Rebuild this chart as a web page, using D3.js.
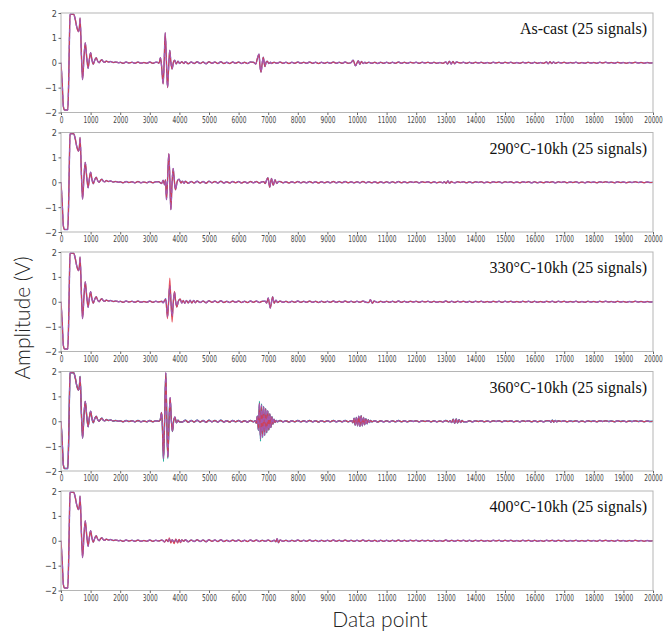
<!DOCTYPE html>
<html>
<head>
<meta charset="utf-8">
<script src="https://cdn.jsdelivr.net/npm/d3@7"></script>
<style>
  body { margin: 0; background: #fff; }
</style>
</head>
<body>
<svg id="chart" width="666" height="632"></svg>
<script>
// panel titles, top to bottom
var panelTitles = ["As-cast (25 signals)", "290\u00B0C-10kh (25 signals)", "330\u00B0C-10kh (25 signals)",
                   "360\u00B0C-10kh (25 signals)", "400\u00B0C-10kh (25 signals)"];
var xTicks = d3.range(0, 20001, 1000);
var yTicks = [-2, -1, 0, 1, 2];

// initial bang, the same in every panel: [data point, amplitude]
var mainBang = [[0,0],[40,-0.8],[80,-1.75],[120,-1.9],[230,-1.9],[255,-1.0],[280,0.6],[305,1.95],[430,1.95],
  [480,1.75],[540,1.4],[590,1.25],[620,1.4],[645,1.8],[690,0.3],[730,-0.68],[775,0.2],[820,0.8],[870,0.2],
  [915,-0.22],[960,0.15],[1000,0.4],[1045,0.12],[1090,-0.06],[1140,0.1],[1190,0.2],[1240,0.06],[1290,0.0],
  [1335,0.08],[1380,0.12],[1430,0.04],[1480,0.02],[1530,0.07],[1600,0.03],[1680,0.05],[1760,0.01],[1850,0.03],[1950,0.0]];

// low background ripple, one value every 100 data points from 2000 on
var rippleStart = 2000, rippleStep = 100;
var ripple = [
  0.02,-0.02,0.03,-0.01,0.02,-0.02,0.03,-0.02,0.01,-0.02,0.03,-0.02,0.02,-0.01,0.03,-0.02,0.02,-0.03,0.02,-0.02,
  0.04,-0.03,0.04,-0.04,0.03,-0.03,0.04,-0.03,0.03,-0.04,0.04,-0.02,0.03,-0.03,0.04,-0.03,0.02,-0.03,0.03,-0.02,
  0.03,-0.03,0.02,-0.03,0.03,-0.02,0.03,-0.03,0.02,-0.02,0.03,-0.03,0.02,-0.02,0.03,-0.02,0.02,-0.03,0.02,-0.02,
  0.03,-0.02,0.02,-0.02,0.03,-0.02,0.02,-0.03,0.02,-0.02,0.02,-0.02,0.03,-0.02,0.02,-0.02,0.03,-0.02,0.02,-0.02,
  0.02,-0.02,0.03,-0.02,0.02,-0.02,0.02,-0.03,0.02,-0.02,0.02,-0.02,0.02,-0.02,0.03,-0.02,0.02,-0.02,0.02,-0.01,
  0.02,-0.02,0.02,-0.01,0.02,-0.02,0.02,-0.02,0.01,-0.02,0.03,-0.02,0.02,-0.02,0.02,-0.01,0.02,-0.02,0.02,-0.02,
  0.02,-0.01,0.02,-0.02,0.01,-0.02,0.02,-0.01,0.02,-0.02,0.02,-0.01,0.02,-0.02,0.01,-0.02,0.02,-0.01,0.02,-0.02,
  0.02,-0.02,0.01,-0.02,0.02,-0.01,0.02,-0.02,0.02,-0.01,0.02,-0.02,0.01,-0.01,0.02,-0.02,0.01,-0.02,0.02,-0.01,
  0.01,-0.02,0.02,-0.01,0.02,-0.01,0.01,-0.02,0.02,-0.01,0.01,-0.02,0.01,-0.01,0.02,-0.01,0.01,-0.02,0.01,-0.01,
  0.0];

// echo bursts per panel: [data point, amplitude]
var echoesAsCast = [
  [[3250,0.02],[3310,-0.02],[3360,0.2],[3400,-0.15],[3450,-0.85],[3485,0.0],[3520,1.2],[3560,0.1],[3600,-1.0],
   [3640,-0.1],[3675,0.5],[3710,0.05],[3750,-0.25],[3800,0.03],[3840,0.1],[3890,-0.05],[3950,0.06],[4010,-0.03],[4080,0.04],[4150,-0.03]],
  [[6500,0.02],[6580,-0.05],[6630,0.15],[6690,0.35],[6720,-0.1],[6756,-0.38],[6800,0.0],[6835,0.22],[6870,-0.05],
   [6890,-0.15],[6930,0.02],[6970,0.06],[7020,-0.03],[7080,0.02]],
  [[9800,0.01],[9870,0.1],[9950,-0.12],[10040,0.08],[10100,-0.06],[10150,0.05],[10210,-0.03],[10270,0.02]],
  [[13000,0.03],[13060,-0.05],[13120,0.06],[13180,-0.05],[13240,0.05],[13300,-0.04],[13360,0.03]],
  [[16400,0.03],[16460,-0.04],[16520,0.04],[16580,-0.03],[16640,0.03]]
];
var echoes290 = [
  [[3300,0.02],[3400,-0.05],[3450,0.08],[3500,-0.1],[3530,0.1],[3563,-0.7],[3600,0.1],[3643,1.15],[3680,0.0],
   [3710,-1.1],[3750,-0.1],[3789,0.55],[3830,0.05],[3867,-0.3],[3930,0.05],[3990,0.12],[4050,-0.03],[4100,0.04],[4160,-0.04]],
  [[6850,0.02],[6900,-0.05],[6950,0.1],[6990,0.18],[7050,-0.2],[7110,0.15],[7170,-0.12],[7230,0.1],[7290,-0.05],[7350,0.03]],
  [[12950,0.02],[13010,-0.04],[13070,0.05],[13130,-0.04],[13190,0.03]]
];
var echoes330 = [
  [[3400,0.02],[3450,-0.04],[3500,0.05],[3540,0.12],[3597,-0.6],[3636,0.0],[3676,0.65],[3715,0.0],[3754,-0.6],
   [3795,0.0],[3834,0.38],[3875,0.0],[3912,-0.2],[3965,0.02],[4025,0.1],[4080,-0.05],[4130,0.05],[4180,-0.06],
   [4240,0.05],[4300,-0.05],[4360,0.06],[4420,-0.05],[4480,0.05],[4540,-0.04]],
  [[6900,0.02],[6950,-0.05],[7000,0.15],[7070,-0.25],[7150,0.2],[7200,-0.06],[7260,0.06],[7320,-0.03]],
  [[10400,-0.03],[10450,0.08],[10520,-0.06],[10580,0.03]]
];
var echoes360 = [
  [[3300,0.0],[3350,0.05],[3396,0.35],[3420,0.0],[3463,-1.5],[3500,0.0],[3541,1.95],[3575,0.0],[3609,-1.45],
   [3650,0.0],[3687,0.95],[3725,0.1],[3765,-0.4],[3805,0.0],[3850,0.17],[3900,-0.06],[3950,0.04],[4000,-0.02]],
  [[6560,0.02],[6600,-0.08],[6635,0.2],[6670,-0.35],[6705,0.72],[6740,-0.7],[6775,0.65],[6810,-0.62],[6845,0.58],
   [6880,-0.55],[6915,0.5],[6950,-0.45],[6985,0.42],[7020,-0.35],[7055,0.3],[7090,-0.25],[7125,0.18],[7160,-0.12],
   [7195,0.08],[7230,-0.05],[7270,0.03],[7310,-0.02]],
  [[9820,0.02],[9860,-0.06],[9900,0.12],[9940,-0.15],[9980,0.15],[10020,-0.18],[10060,0.2],[10100,-0.2],[10140,0.22],
   [10180,-0.18],[10220,0.15],[10260,-0.14],[10300,0.1],[10340,-0.1],[10380,0.06],[10420,-0.05],[10460,0.03],[10500,-0.02]],
  [[13150,0.02],[13200,-0.05],[13250,0.08],[13300,-0.08],[13350,0.09],[13400,-0.07],[13450,0.06],[13500,-0.05],[13550,0.03],[13600,-0.02]],
  [[16500,0.02],[16550,-0.03],[16600,0.04],[16650,-0.03],[16700,0.03],[16750,-0.02]]
];
var echoes400 = [
  [[3450,0.0],[3500,-0.04],[3560,0.04],[3620,-0.03],[3660,0.07],[3710,-0.06],[3760,0.04],[3820,-0.07],[3880,0.05],
   [3940,-0.06],[3990,0.04],[4040,-0.05],[4080,0.03],[4150,-0.02]],
  [[7200,0.02],[7260,-0.04],[7300,0.08],[7350,-0.08],[7400,0.03]]
];

// signals that stand out of the bundle (red and teal traces)
var red330 = [[3400,0.02],[3450,-0.04],[3500,0.05],[3540,0.1],[3597,-0.68],[3636,0.0],[3676,0.95],[3715,0.0],[3754,-0.82],
   [3795,0.0],[3834,0.42],[3875,0.0],[3912,-0.22],[3965,0.02],[4025,0.12],[4080,-0.05],[4130,0.05],[4180,-0.06],
   [4240,0.05],[4300,-0.05],[4360,0.06],[4420,-0.05],[4480,0.05],[4540,-0.04]];
var red400 = [[3450,0.0],[3500,-0.06],[3560,0.05],[3620,-0.04],[3660,0.12],[3710,-0.1],[3760,0.05],[3820,-0.12],[3880,0.08],
   [3940,-0.1],[3990,0.06],[4040,-0.08],[4080,0.04],[4150,-0.02]];
var teal360a = [[3300,0.0],[3350,0.05],[3396,0.33],[3420,0.0],[3463,-1.62],[3500,0.0],[3541,1.9],[3575,0.0],[3609,-1.5],
   [3650,0.0],[3687,0.9],[3725,0.1],[3765,-0.42],[3805,0.0],[3850,0.15],[3900,-0.06],[3950,0.04],[4000,-0.02]];
var teal360b = [[6560,0.02],[6600,-0.08],[6635,0.22],[6670,-0.38],[6705,0.8],[6740,-0.8],[6775,0.7],[6810,-0.66],[6845,0.6],
   [6880,-0.58],[6915,0.52],[6950,-0.47],[6985,0.42],[7020,-0.36],[7055,0.3],[7090,-0.25],[7125,0.18],[7160,-0.12],
   [7195,0.08],[7230,-0.05],[7270,0.03],[7310,-0.02]];

var panelEchoes = [echoesAsCast, echoes290, echoes330, echoes360, echoes400];
var redVariants = [[], [], [red330], [], [red400]];
var tealVariants = [[], [], [], [teal360a, teal360b], []];

var svg = d3.select("#chart");
var margin = { left: 61, right: 13, top: 13 };
var plotW = 666 - margin.left - margin.right;
var panelH = 99.5, panelStep = 119.5;

var x = d3.scaleLinear().domain([0, 20000]).range([margin.left, margin.left + plotW]);

// merge bang, ripple and bursts into one trace
function buildTrace(bursts) {
  var pts = mainBang.slice();
  var last = mainBang[mainBang.length - 1][0];
  ripple.forEach(function(v, i) {
    var px = rippleStart + i * rippleStep;
    if (px <= last) return;
    var inside = bursts.some(function(b) { return px >= b[0][0] && px <= b[b.length - 1][0]; });
    if (!inside) pts.push([px, v]);
  });
  bursts.forEach(function(b) { pts = pts.concat(b); });
  pts.sort(function(a, b) { return a[0] - b[0]; });
  return pts;
}

function swapBursts(bursts, variants) {
  return bursts.map(function(b) {
    var v = variants.filter(function(s) { return s[0][0] <= b[b.length - 1][0] && s[s.length - 1][0] >= b[0][0]; });
    return v.length ? v[0] : b;
  });
}

panelTitles.forEach(function(title, i) {
  var top = margin.top + i * panelStep;
  var y = d3.scaleLinear().domain([-2, 2]).range([top + panelH, top]);
  var g = svg.append("g");

  g.append("clipPath").attr("id", "clip" + i)
    .append("rect").attr("x", margin.left).attr("y", top - 1).attr("width", plotW).attr("height", panelH + 2);

  var line = d3.line()
    .x(function(d) { return x(d[0]); })
    .y(function(d) { return y(d[1]); })
    .curve(d3.curveMonotoneX);

  var bursts = panelEchoes[i];
  var lines = g.append("g").attr("clip-path", "url(#clip" + i + ")");

  if (tealVariants[i].length) {
    lines.append("path").attr("d", line(buildTrace(swapBursts(bursts, tealVariants[i]))))
      .attr("fill", "none").attr("stroke", "#2bb3a3").attr("stroke-width", 1.3);
  }
  lines.append("path").attr("d", line(buildTrace(bursts)))
    .attr("fill", "none").attr("stroke", "#5b6bd4").attr("stroke-width", 1.4);
  lines.append("path").attr("d", line(buildTrace(swapBursts(bursts, redVariants[i]))))
    .attr("fill", "none").attr("stroke", "#e23a44").attr("stroke-width", 1.2).attr("opacity", 0.85);
  lines.append("path").attr("d", line(buildTrace(bursts)))
    .attr("fill", "none").attr("stroke", "#a45bb5").attr("stroke-width", 1.2)
    .attr("stroke-dasharray", "4,4").attr("opacity", 0.9);

  // frame
  g.append("rect").attr("x", margin.left).attr("y", top).attr("width", plotW).attr("height", panelH)
    .attr("fill", "none").attr("stroke", "#b5b5b5").attr("stroke-width", 1);

  var xAxis = g.append("g").attr("transform", "translate(0," + (top + panelH) + ")")
    .call(d3.axisBottom(x).tickValues(xTicks).tickFormat(d3.format("d")).tickSizeInner(2.5).tickSizeOuter(0).tickPadding(1));
  xAxis.select(".domain").remove();
  xAxis.selectAll("line").attr("stroke", "#666");
  xAxis.selectAll("text").attr("fill", "#444").style("font", "9.5px 'DejaVu Sans'")
    .attr("transform", "scale(0.62,1)");

  var yAxis = g.append("g").attr("transform", "translate(" + margin.left + ",0)")
    .call(d3.axisLeft(y).tickValues(yTicks).tickFormat(function(d) { return d < 0 ? "\u2212" + (-d) : d; })
      .tickSizeInner(2.5).tickSizeOuter(0));
  yAxis.select(".domain").remove();
  yAxis.selectAll("line").attr("stroke", "#666");
  yAxis.selectAll("text").attr("fill", "#444").style("font", "9.5px 'DejaVu Sans'")
    .attr("x", 0).attr("transform", "translate(-4,0) scale(0.85,1)");

  g.append("text").attr("x", 647).attr("y", top + 21).attr("text-anchor", "end")
    .style("font", "16px 'Liberation Serif'").attr("fill", "#111").text(title);
});

svg.append("text").attr("transform", "translate(30,318) rotate(-90)").attr("text-anchor", "middle")
  .style("font", "300 21px Lato").attr("fill", "#222").text("Amplitude (V)");
svg.append("text").attr("x", 380).attr("y", 627).attr("text-anchor", "middle")
  .style("font", "300 21px Lato").attr("fill", "#222").text("Data point");
</script>
</body>
</html>
